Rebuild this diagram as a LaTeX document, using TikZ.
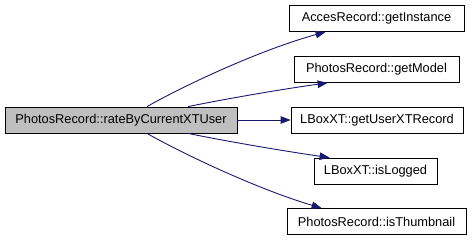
\documentclass[tikz,border=0pt]{standalone}
\usepackage{fontspec}
\setmainfont{Liberation Sans}
\usetikzlibrary{arrows.meta}
\definecolor{edgeblue}{HTML}{191970}
\definecolor{curfill}{HTML}{BFBFBF}
\begin{document}
\begin{tikzpicture}[x=1pt,y=-1pt,
  fn/.style={draw=black, line width=0.8pt, fill=white, minimum height=26pt,
    inner sep=0pt, font=\fontsize{12.8}{14}\selectfont},
  cur/.style={fn, fill=curfill},
  call/.style={draw=edgeblue, line width=0.9pt,
    -{Triangle[length=10pt,width=7.5pt]}}]
\useasboundingbox (0,0) rectangle (472,240);

\node[cur, minimum width=232pt] (main) at (121,120) {PhotosRecord::rateByCurrentXTUser};
\node[fn, minimum width=175pt] (n1) at (376.5,18.5) {AccesRecord::getInstance};
\node[fn, minimum width=165pt] (n2) at (376.5,69.5) {PhotosRecord::getModel};
\node[fn, minimum width=172pt] (n3) at (377,120) {LBoxXT::getUserXTRecord};
\node[fn, minimum width=123pt] (n4) at (375.5,171) {LBoxXT::isLogged};
\node[fn, minimum width=179pt] (n5) at (376.5,221.5) {PhotosRecord::isThumbnail};

\draw[call] ([xshift=26pt]main.north) .. controls (185,85) and (260,50) .. ([xshift=37pt]n1.south west);
\draw[call] ([xshift=67pt]main.north) .. controls (230,98) and (290,88) .. ([xshift=34pt]n2.south west);
\draw[call] (main.east) -- (n3.west);
\draw[call] ([xshift=67pt]main.south) .. controls (230,142) and (290,152) .. ([xshift=16pt]n4.north west);
\draw[call] ([xshift=26pt]main.south) .. controls (185,155) and (260,190) .. ([xshift=35pt]n5.north west);
\end{tikzpicture}
\end{document}
